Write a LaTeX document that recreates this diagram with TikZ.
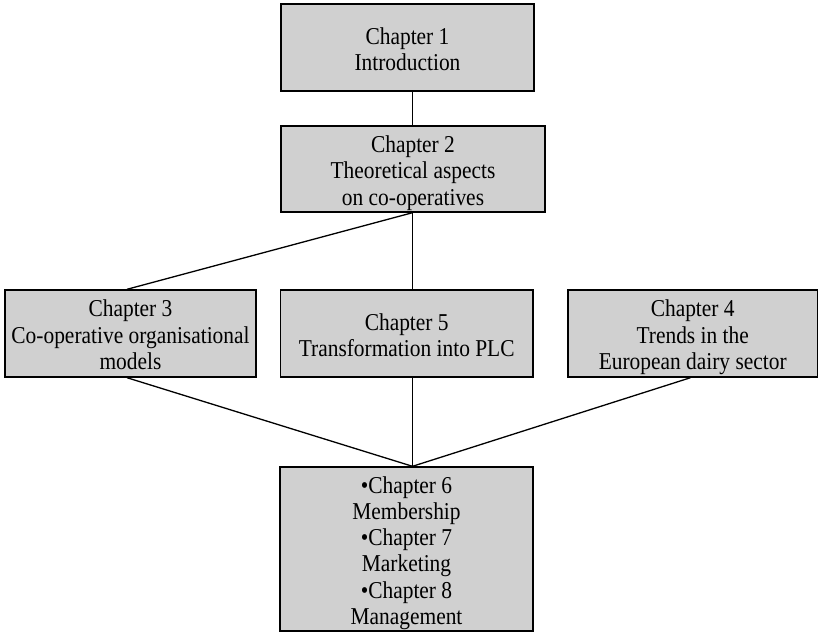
\documentclass[tikz,border=0pt]{standalone}
\usepackage{graphicx}
\usepackage{fontspec}
\setmainfont{Liberation Serif}
\definecolor{boxgray}{RGB}{208,208,208}
% centred lines of box text, set slightly narrow and dropped a little
\newcommand{\boxlines}[1]{\raisebox{-4.5pt}[\height][\depth]{%
  \scalebox{0.885}[1]{\begin{tabular}{@{}c@{}}#1\end{tabular}}}}
\begin{document}
\begin{tikzpicture}[x=1pt,y=-1pt,
  chapterbox/.style={draw=black, fill=boxgray, line width=1.4pt,
    align=center, inner sep=0pt, font=\fontsize{24.2}{26.3}\selectfont},
  link/.style={draw=black, line width=1.3pt}]
  \useasboundingbox (0,0) rectangle (819,632);

  % chapter boxes
  \node[chapterbox, minimum width=253pt, minimum height=87pt] (ch1) at (407.5,47.5)
    {\boxlines{Chapter 1\\Introduction}};
  \node[chapterbox, minimum width=264pt, minimum height=86pt] (ch2) at (413,169)
    {\boxlines{Chapter 2\\Theoretical aspects\\on co-operatives}};
  \node[chapterbox, minimum width=251pt, minimum height=87pt] (ch3) at (130.5,333.5)
    {\boxlines{Chapter 3\\Co-operative organisational\\models}};
  \node[chapterbox, minimum width=252.5pt, minimum height=87pt] (ch5) at (406.7,333.5)
    {\boxlines{Chapter 5\\Transformation into PLC}};
  \node[chapterbox, minimum width=249.5pt, minimum height=87pt] (ch4) at (692.7,333.5)
    {\boxlines{Chapter 4\\Trends in the\\European dairy sector}};
  \node[chapterbox, minimum width=253pt, minimum height=164pt] (ch678) at (406.5,549)
    {\boxlines{\textbullet Chapter 6\\Membership\\\textbullet Chapter 7\\Marketing\\\textbullet Chapter 8\\Management}};

  % vertical spine and attachment points
  \coordinate (spine) at (412.5,0);
  \coordinate (left) at (127,0);
  \coordinate (right) at (690.5,0);

  % connectors
  \draw[link] (ch1.south -| spine) -- (ch2.north -| spine);
  \draw[link] (ch2.south -| spine) -- (ch3.north -| left);
  \draw[link] (ch2.south -| spine) -- (ch5.north -| spine);
  \draw[link] (ch3.south -| left) -- (ch678.north -| spine);
  \draw[link] (ch5.south -| spine) -- (ch678.north -| spine);
  \draw[link] (ch4.south -| right) -- (ch678.north -| spine);
\end{tikzpicture}
\end{document}
